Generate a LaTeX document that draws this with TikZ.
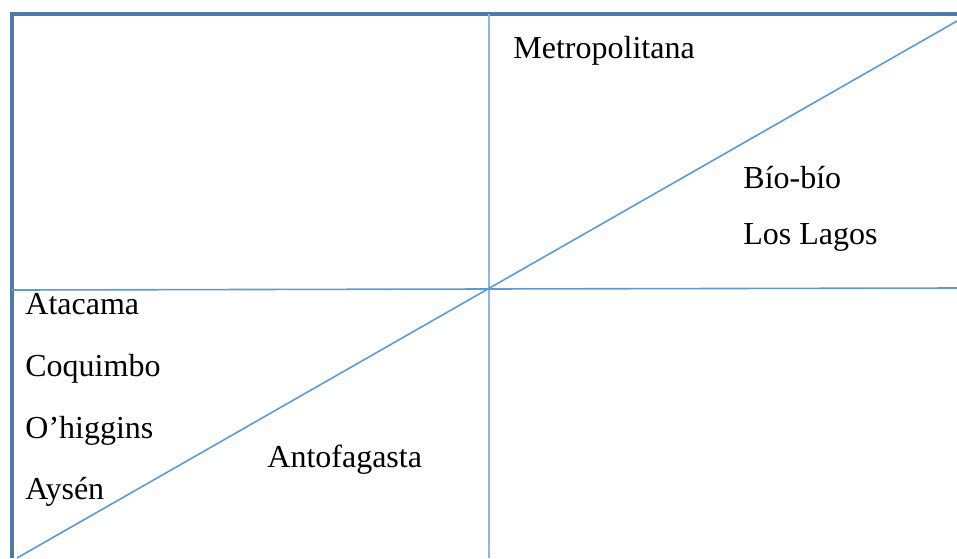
\documentclass[tikz,border=0pt]{standalone}
\usepackage{fontspec}
\setmainfont{Liberation Serif}
\definecolor{framec}{HTML}{4F7BA8}
\definecolor{linec}{HTML}{5B9BD5}
\definecolor{vlinec}{HTML}{8DB4E2}

\begin{document}
\begin{tikzpicture}[x=0.5pt,y=-0.5pt]
  \tikzstyle{every node}=[inner sep=0pt,anchor=base west,font=\fontsize{16}{19}\selectfont]
  \tikzstyle{frameline}=[draw=framec,line width=1.8pt]
  \tikzstyle{axis}=[draw=linec,line width=0.8pt]
  \useasboundingbox (0,0) rectangle (957,558);
  % frame
  \coordinate (tl) at (12,14);
  \coordinate (tr) at (957,14);
  \coordinate (bl) at (12,558);
  \draw[frameline] (tr) -- (tl) -- (bl);
  % axes
  \coordinate (vtop) at (489,14);
  \coordinate (vbot) at (489,558);
  \coordinate (hleft) at (12,290);
  \coordinate (hright) at (957,288);
  \coordinate (dlow) at (17,558);
  \coordinate (dhigh) at (957,21);
  \draw[axis,draw=vlinec] (vtop) -- (vbot);
  \draw[axis] (hleft) -- (hright);
  \draw[axis] (dlow) -- (dhigh);
  % labels
  \node (metro) at (513,58) {Metropolitana};
  \node (bio) at (743,188) {Bío-bío};
  \node (lagos) at (743,244) {Los Lagos};
  \node (atacama) at (25,314) {Atacama};
  \node (coquimbo) at (25,376) {Coquimbo};
  \node (ohiggins) at (25,438) {O’higgins};
  \node (aysen) at (25,499) {Aysén};
  \node (antofa) at (267,467) {Antofagasta};
\end{tikzpicture}
\end{document}
